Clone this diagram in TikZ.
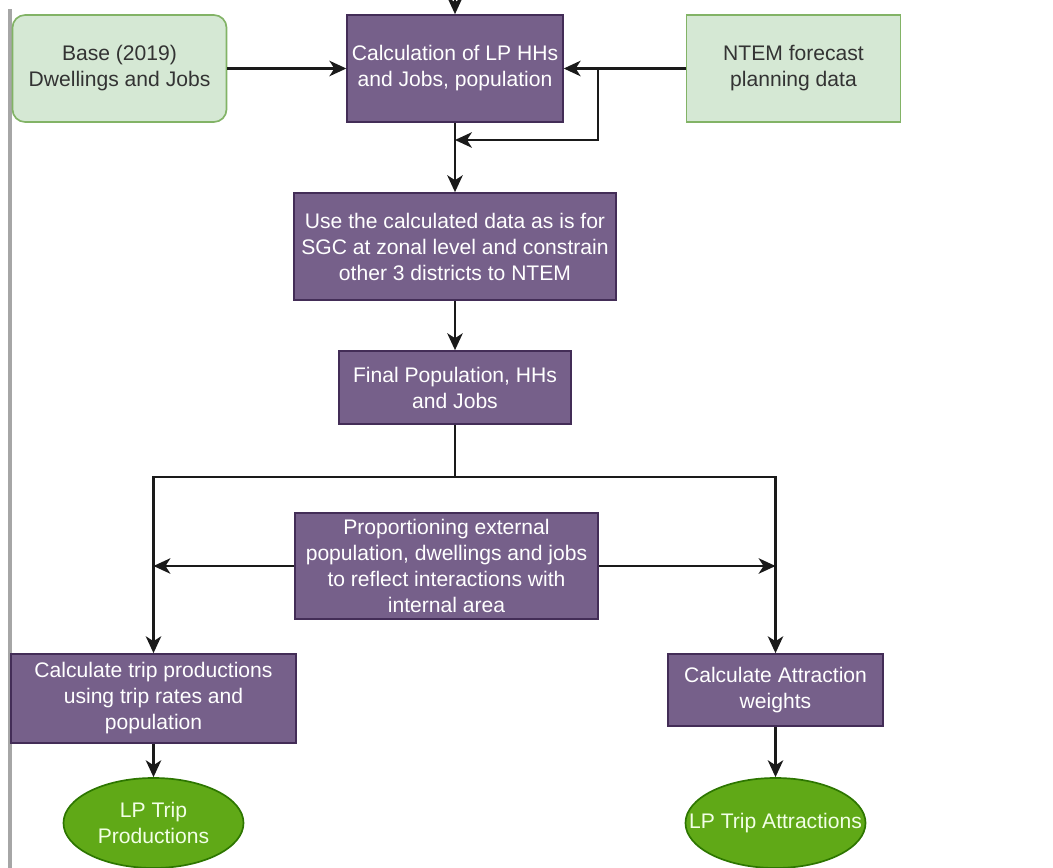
\documentclass[tikz,border=0pt]{standalone}
\usepackage{fontspec}
\setmainfont{Liberation Sans}
\usetikzlibrary{arrows.meta,shapes.geometric}
\definecolor{infill}{HTML}{D5E8D4}
\definecolor{inline}{HTML}{82B366}
\definecolor{intext}{HTML}{333333}
\definecolor{procfill}{HTML}{76608A}
\definecolor{procline}{HTML}{432D57}
\definecolor{outfill}{HTML}{60A917}
\definecolor{outline}{HTML}{2D7600}
\definecolor{outtext}{HTML}{F2FFE6}
\definecolor{linecol}{HTML}{1A1A1A}
\definecolor{barcol}{HTML}{A6A6A6}
\begin{document}
\begin{tikzpicture}[x=0.025cm,y=-0.025cm,font=\fontsize{15}{18.5}\selectfont,
  inbox/.style={draw=inline,fill=infill,text=intext,line width=1.2pt,align=center,
    minimum width=5.35cm,minimum height=2.675cm},
  procbox/.style={draw=procline,fill=procfill,text=white,line width=1.2pt,align=center},
  outnode/.style={ellipse,draw=outline,fill=outfill,text=outtext,line width=1.2pt,align=center,
    minimum width=4.5cm,minimum height=2.25cm,inner xsep=-0.65cm,inner ysep=0pt},
  arr/.style={-{Stealth[length=12pt,width=11pt,inset=3.5pt]},line width=1.6pt,draw=linecol}]
  \useasboundingbox (0,0) rectangle (1053,868);
  \fill[barcol] (8,9) rectangle (11.5,868);
  \node[inbox,rounded corners=9pt] (base) at (119.5,68.5) {Base (2019)\\Dwellings and Jobs};
  \node[procbox,minimum width=5.325cm,minimum height=2.675cm] (calc) at (455,68.5) {Calculation of LP HHs\\and Jobs, population};
  \node[inbox] (ntem) at (793.5,68.5) {NTEM forecast\\planning data};
  \node[procbox,minimum width=8.05cm,minimum height=2.675cm] (use) at (455,246.5) {Use the calculated data as is for\\SGC at zonal level and constrain\\other 3 districts to NTEM};
  \node[procbox,minimum width=5.8cm,minimum height=1.825cm] (final) at (455,387.5) {Final Population, HHs\\and Jobs};
  \node[procbox,minimum width=7.575cm,minimum height=2.65cm] (prop) at (446.5,566) {Proportioning external\\population, dwellings and jobs\\to reflect interactions with\\internal area};
  \node[procbox,minimum width=7.125cm,minimum height=2.225cm] (trip) at (153.5,698.5) {Calculate trip productions\\using trip rates and\\population};
  \node[procbox,minimum width=5.375cm,minimum height=1.8cm] (attr) at (775.5,690) {Calculate Attraction\\weights};
  \node[outnode] (prod) at (153.5,823) {LP Trip\\Productions};
  \node[outnode] (attrout) at (775.5,823) {LP Trip Attractions};
  \coordinate (topin) at (455,0);
  \coordinate (fb) at (598,68.5);
  \coordinate (fbend) at (455,140);
  \coordinate (split) at (455,477);
  \draw[arr] (topin) -- (calc);
  \draw[arr] (base) -- (calc);
  \draw[arr] (ntem) -- (calc);
  \draw[arr] (fb) |- (fbend);
  \draw[arr] (calc) -- (use);
  \draw[arr] (use) -- (final);
  \draw[line width=1.6pt,draw=linecol] (final) -- (split);
  \draw[arr] (split) -| (trip);
  \draw[arr] (split) -| (attr);
  \draw[arr] (prop.west) -- (prop.west -| trip.north);
  \draw[arr] (prop.east) -- (prop.east -| attr.north);
  \draw[arr] (trip) -- (prod);
  \draw[arr] (attr) -- (attrout);
\end{tikzpicture}
\end{document}
